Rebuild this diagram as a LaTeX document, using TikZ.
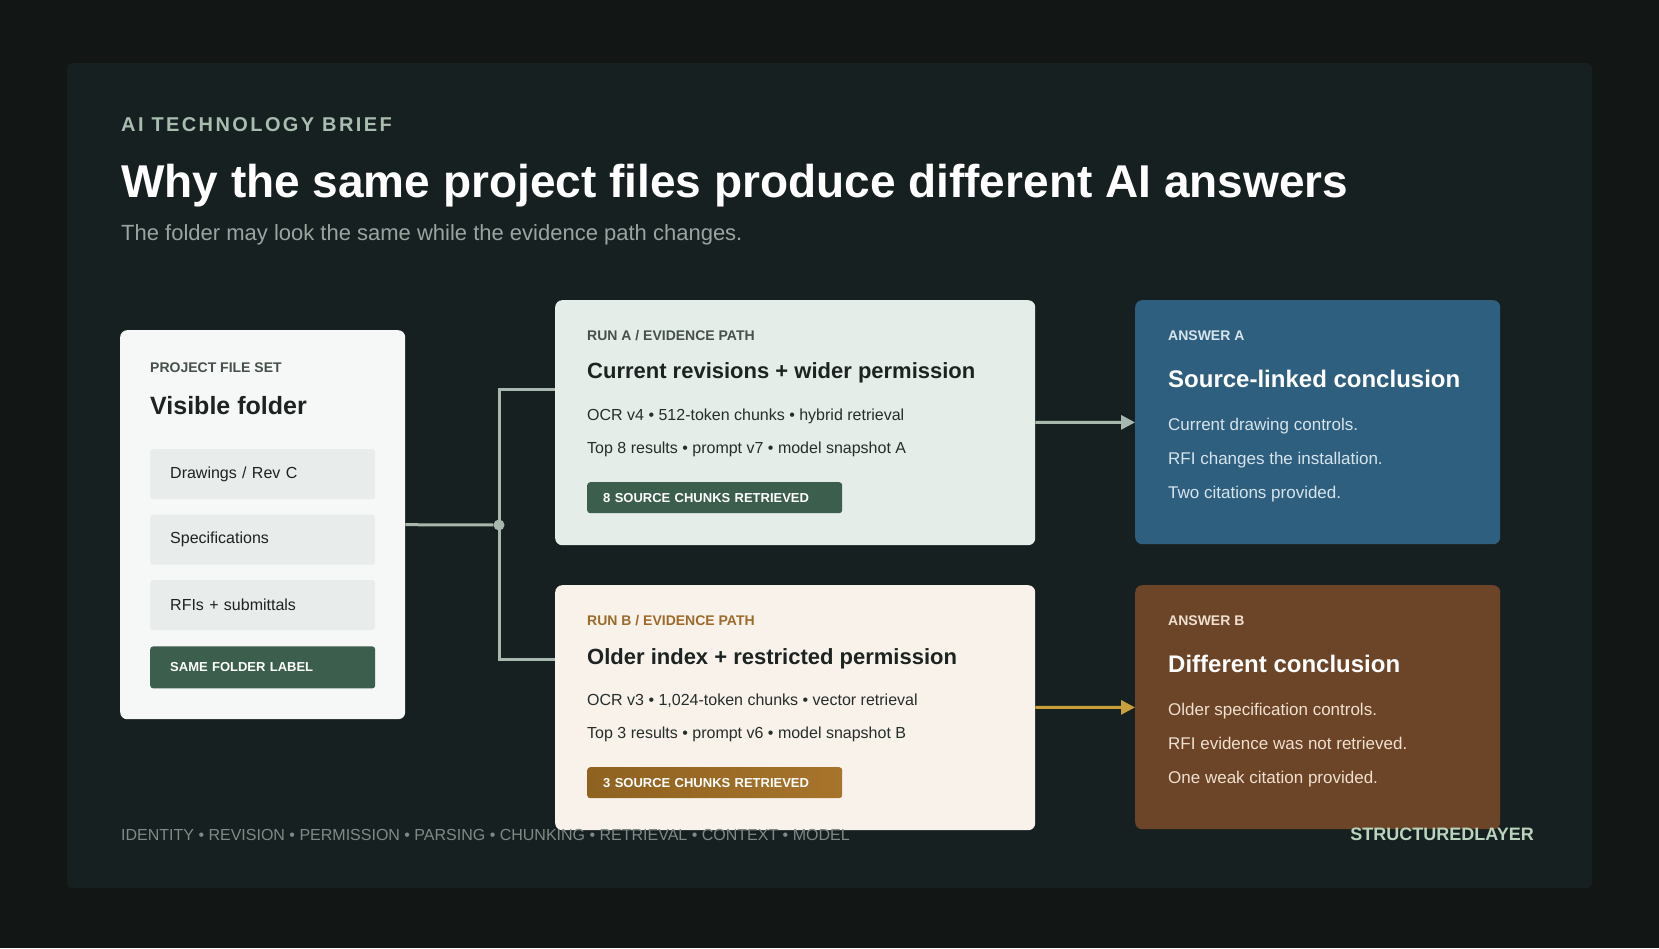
\documentclass[tikz,border=0pt]{standalone}
\usepackage{fontspec}
\setmainfont{Liberation Sans}
\usepackage{tikz}
\usetikzlibrary{arrows.meta,positioning,calc}
\definecolor{pagebg}{HTML}{121715}
\definecolor{panelbg}{HTML}{172020}
\definecolor{kickergreen}{HTML}{A8BDAF}
\definecolor{subgray}{HTML}{9AA4A0}
\definecolor{inkdark}{HTML}{1C2320}
\definecolor{inkbody}{HTML}{272D2A}
\definecolor{labelgray}{HTML}{46514B}
\definecolor{folderbg}{HTML}{F5F8F6}
\definecolor{itembg}{HTML}{E8ECEA}
\definecolor{badgegreen}{HTML}{3C5E4C}
\definecolor{runabg}{HTML}{E4EDE8}
\definecolor{runbbg}{HTML}{F8F2EB}
\definecolor{runbbrown}{HTML}{9C6B2B}
\definecolor{badgegoldL}{HTML}{8F6220}
\definecolor{badgegoldR}{HTML}{A7742B}
\definecolor{linkgray}{HTML}{A9B8AE}
\definecolor{arrowgold}{HTML}{C99F3C}
\definecolor{answerblue}{HTML}{2F5F7E}
\definecolor{answerbrown}{HTML}{6C4428}
\definecolor{bluetext}{HTML}{D6E4EC}
\definecolor{browntext}{HTML}{F0E0CF}
\definecolor{footergray}{HTML}{7F8A86}
\definecolor{brandgreen}{HTML}{B9D3BD}
\tikzset{
  card/.style={anchor=north west,inner sep=0pt,rounded corners=7pt},
  textline/.style={anchor=base west,inner sep=0pt},
  smalllabel/.style={textline,font=\fontsize{14}{16}\selectfont\bfseries},
  bodyline/.style={textline,font=\fontsize{16}{19}\selectfont,text=inkbody},
  answerline/.style={textline,font=\fontsize{17}{20}\selectfont},
  fileitem/.style={anchor=north west,fill=itembg,rounded corners=3pt,text=inkdark,
    inner xsep=20pt,inner ysep=0pt,text width=185pt,minimum height=50pt,align=left,
    font=\fontsize{16}{19}\selectfont},
  chunkbadge/.style={anchor=north west,rounded corners=3pt,text=white,inner xsep=16pt,
    inner ysep=0pt,text width=223pt,minimum height=31pt,align=left,
    font=\fontsize{13}{15}\selectfont\bfseries},
  link/.style={draw=linkgray,line width=3pt},
  flowarrow/.style={line width=3pt,-{Triangle[length=14pt,width=14pt]}}
}
\begin{document}
\begin{tikzpicture}[x=1pt,y=-1pt]
  \fill[pagebg] (0,0) rectangle (1659,948);
  \useasboundingbox (0,0) rectangle (1659,948);
  \fill[panelbg,rounded corners=6pt] (67,63) rectangle (1592,888);

  % heading
  \node[textline,text=kickergreen,font=\fontsize{20}{24}\selectfont\bfseries\addfontfeatures{LetterSpace=12}]
    (kicker) at (121,131) {AI TECHNOLOGY BRIEF};
  \node[textline,text=white,font=\fontsize{46}{52}\selectfont\bfseries] (title) at (121,197)
    {Why the same project files produce different AI answers};
  \node[textline,text=subgray,font=\fontsize{22}{26}\selectfont] (subtitle) at (121,240)
    {The folder may look the same while the evidence path changes.};

  % project file set
  \node[card,fill=folderbg,minimum width=285pt,minimum height=389pt] (folder) at (120,330) {};
  \node[smalllabel,text=labelgray] (folderlabel) at (150,372) {PROJECT FILE SET};
  \node[textline,text=inkdark,font=\fontsize{25}{30}\selectfont\bfseries] (foldertitle) at (150,414) {Visible folder};
  \node[fileitem] (drawings) at (150,449) {Drawings / Rev C};
  \node[fileitem,below=15pt of drawings] (specs) {Specifications};
  \node[fileitem,below=15pt of specs] (rfis) {RFIs + submittals};
  \node[chunkbadge,fill=badgegreen,below=16pt of rfis,inner xsep=20pt,text width=185pt,minimum height=42pt]
    (samelabel) {SAME FOLDER LABEL};

  % run A
  \node[card,fill=runabg,minimum width=480pt,minimum height=245pt] (runA) at (555,300) {};
  \node[smalllabel,text=labelgray] (runAlabel) at (587,340) {RUN A / EVIDENCE PATH};
  \node[textline,text=inkdark,font=\fontsize{22}{26}\selectfont\bfseries] (runAtitle) at (587,378)
    {Current revisions + wider permission};
  \node[bodyline] (runAone) at (587,420) {OCR v4 • 512-token chunks • hybrid retrieval};
  \node[bodyline] (runAtwo) at (587,453) {Top 8 results • prompt v7 • model snapshot A};
  \node[chunkbadge,fill=badgegreen] (runAbadge) at (587,482) {8 SOURCE CHUNKS RETRIEVED};

  % run B
  \node[card,fill=runbbg,minimum width=480pt,minimum height=245pt] (runB) at (555,585) {};
  \node[smalllabel,text=runbbrown] (runBlabel) at (587,625) {RUN B / EVIDENCE PATH};
  \node[textline,text=inkdark,font=\fontsize{22}{26}\selectfont\bfseries] (runBtitle) at (587,664)
    {Older index + restricted permission};
  \node[bodyline] (runBone) at (587,705) {OCR v3 • 1,024-token chunks • vector retrieval};
  \node[bodyline] (runBtwo) at (587,738) {Top 3 results • prompt v6 • model snapshot B};
  \node[chunkbadge,left color=badgegoldL,right color=badgegoldR] (runBbadge) at (587,767)
    {3 SOURCE CHUNKS RETRIEVED};

  % answers
  \node[card,fill=answerblue,minimum width=365pt,minimum height=244pt] (ansA) at (1135,300) {};
  \node[smalllabel,text=bluetext] (ansAlabel) at (1168,340) {ANSWER A};
  \node[textline,text=white,font=\fontsize{24}{28}\selectfont\bfseries] (ansAtitle) at (1168,387)
    {Source-linked conclusion};
  \node[answerline,text=bluetext] (ansAone) at (1168,430) {Current drawing controls.};
  \node[answerline,text=bluetext] (ansAtwo) at (1168,464) {RFI changes the installation.};
  \node[answerline,text=bluetext] (ansAthree) at (1168,498) {Two citations provided.};

  \node[card,fill=answerbrown,minimum width=365pt,minimum height=244pt] (ansB) at (1135,585) {};
  \node[smalllabel,text=browntext] (ansBlabel) at (1168,625) {ANSWER B};
  \node[textline,text=white,font=\fontsize{24}{28}\selectfont\bfseries] (ansBtitle) at (1168,672)
    {Different conclusion};
  \node[answerline,text=browntext] (ansBone) at (1168,715) {Older specification controls.};
  \node[answerline,text=browntext] (ansBtwo) at (1168,749) {RFI evidence was not retrieved.};
  \node[answerline,text=browntext] (ansBthree) at (1168,783) {One weak citation provided.};

  % connectors
  \node[circle,fill=linkgray,minimum size=11pt,inner sep=0pt] (hub) at (499,525) {};
  \draw[link] (folder.east) -- (hub);
  \draw[link] (hub.center) |- ([yshift=33pt]runA.west);
  \draw[link] (hub.center) |- ([yshift=48pt]runB.west);
  \draw[flowarrow,draw=linkgray,fill=linkgray] (runA) -- (ansA);
  \draw[flowarrow,draw=arrowgold,fill=arrowgold] (runB) -- (ansB);

  % footer
  \node[textline,text=footergray,font=\fontsize{16}{19}\selectfont] (pipeline) at (121,840)
    {IDENTITY • REVISION • PERMISSION • PARSING • CHUNKING • RETRIEVAL • CONTEXT • MODEL};
  \node[anchor=base east,inner sep=0pt,text=brandgreen,font=\fontsize{18}{21}\selectfont\bfseries]
    (brand) at (1534,840) {STRUCTUREDLAYER};
\end{tikzpicture}
\end{document}
